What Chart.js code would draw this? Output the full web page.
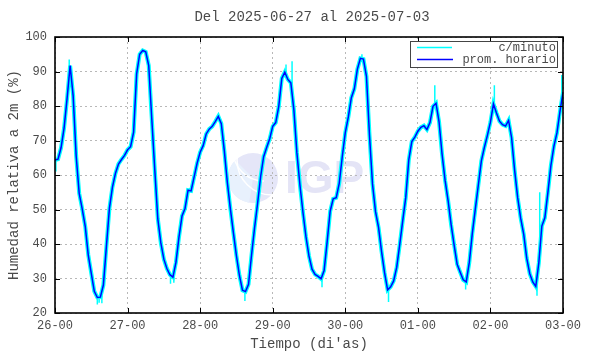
<!DOCTYPE html>
<html>
<head>
<meta charset="utf-8">
<script src="https://cdn.jsdelivr.net/npm/chart.js@4/dist/chart.umd.min.js"></script>
<style>
  html, body { margin: 0; padding: 0; background: #fff; }
  #wrap { width: 590px; height: 354px; }
</style>
</head>
<body>
<div id="wrap"><canvas id="chart" width="590" height="354"></canvas></div>
<script>
// valores horarios (prom. horario), una hora por punto desde 26-00
const hourlyValues = [
  64.3, 64.6, 67.9, 73.6, 82.2, 91.7, 83.0, 65.5, 54.7, 50.2,
  45.1, 36.8, 31.5, 26.3, 24.5, 24.6, 28.1, 39.3, 50.4, 56.5,
  60.5, 63.2, 64.5, 65.7, 67.3, 68.2, 72.4, 89.3, 95.0, 96.1,
  95.7, 91.7, 76.4, 61.5, 47.3, 40.3, 35.6, 32.9, 31.1, 30.4,
  34.7, 42.0, 48.1, 50.3, 55.6, 55.4, 59.4, 63.4, 66.6, 68.5,
  71.9, 73.3, 74.1, 75.5, 77.0, 74.9, 67.0, 57.8, 50.2, 43.2,
  36.6, 30.8, 26.6, 26.2, 28.3, 36.8, 44.7, 51.8, 59.5, 65.3,
  68.0, 70.5, 74.1, 75.2, 79.9, 88.0, 89.8, 87.7, 86.7, 78.9,
  66.4, 57.1, 49.2, 42.1, 36.5, 32.7, 31.2, 30.6, 29.9, 32.3,
  40.6, 49.5, 53.1, 53.4, 57.6, 65.3, 72.3, 76.8, 82.4, 85.0,
  90.7, 93.8, 93.6, 88.6, 71.6, 57.4, 49.4, 44.8, 37.8, 31.6,
  26.7, 27.6, 29.3, 33.2, 39.8, 46.8, 53.5, 64.4, 69.7, 71.0,
  72.7, 73.8, 74.3, 73.2, 75.2, 79.9, 80.8, 75.5, 66.1, 58.5,
  52.6, 45.6, 39.7, 34.1, 31.8, 29.6, 29.0, 34.6, 43.0, 50.1,
  57.1, 64.1, 68.0, 71.5, 75.3, 80.6, 78.0, 75.6, 74.6, 74.2,
  75.8, 70.8, 61.4, 53.5, 47.5, 42.9, 35.9, 31.4, 29.0, 27.7,
  34.5, 45.2, 47.6, 54.9, 62.8, 68.4, 72.2, 78.4, 84.0
];

// picos de los datos por minuto: [hora, desde %, hasta %]
const minuteSpikes = [
  [0.3, 64.0, 61.0], [4.7, 88.0, 93.5], [14.0, 25.0, 22.5], [14.6, 24.5, 23.0],
  [15.5, 25.0, 22.8], [38.2, 31.0, 28.5], [39.3, 30.5, 28.8], [62.8, 26.5, 23.5],
  [76.4, 89.0, 92.0], [78.4, 86.0, 93.0], [88.3, 30.0, 27.5], [101.5, 93.5, 95.0],
  [110.3, 26.5, 23.2], [125.6, 80.5, 86.0], [135.8, 29.0, 26.8], [145.3, 81.0, 86.0],
  [159.4, 28.0, 25.0], [160.3, 40.0, 55.0], [167.6, 80.0, 89.0]
];

const xTickLabels = ['26-00', '27-00', '28-00', '29-00', '30-00', '01-00', '02-00', '03-00'];
const yTicks = [20, 30, 40, 50, 60, 70, 80, 90, 100];

const FONT = "'Liberation Mono', 'DejaVu Sans Mono', monospace";
const TEXT = '#4a4a4a';

const hourlyPoints = hourlyValues.map((v, i) => ({ x: i, y: v }));
const spikePoints = [];
minuteSpikes.forEach(s => {
  spikePoints.push({ x: s[0], y: s[1] }, { x: s[0], y: s[2] }, { x: s[0], y: null });
});

// marco, marcas interiores, leyenda y titulo
const framePlugin = {
  id: 'frame',
  beforeDraw(chart) {
    const ctx = chart.ctx;
    // marca de agua IGP
    ctx.save();
    ctx.fillStyle = '#e5e6f8';
    ctx.beginPath();
    ctx.arc(253, 178, 25, 0, Math.PI * 2);
    ctx.fill();
    ctx.fillStyle = '#e8f1fd';
    ctx.beginPath();
    ctx.arc(253, 178, 25, Math.PI * 0.55, Math.PI * 1.25);
    ctx.lineTo(253, 178);
    ctx.fill();
    ctx.strokeStyle = '#ffffff';
    ctx.lineWidth = 1.5;
    [[264, 150, 31], [272, 160, 35], [246, 206, 31]].forEach(a => {
      ctx.beginPath();
      ctx.arc(a[0], a[1], a[2], Math.PI * 0.5, Math.PI * 1.1);
      ctx.stroke();
    });
    ctx.fillStyle = '#e4e4f6';
    ctx.font = "bold 46px 'Liberation Sans', Arial, sans-serif";
    ctx.textBaseline = 'middle';
    ctx.fillText('IGP', 285, 180);
    ctx.restore();
  },
  afterDraw(chart) {
    const ctx = chart.ctx;
    const a = chart.chartArea;
    const xs = chart.scales.x, ys = chart.scales.y;
    ctx.save();
    ctx.strokeStyle = '#000';
    ctx.lineWidth = 1;
    ctx.beginPath();
    for (let i = 0; i < xTickLabels.length; i++) {
      const px = Math.round(xs.getPixelForValue(i * 24)) + 0.5;
      ctx.moveTo(px, a.bottom); ctx.lineTo(px, a.bottom - 5);
      ctx.moveTo(px, a.top); ctx.lineTo(px, a.top + 5);
    }
    yTicks.forEach(t => {
      const py = Math.round(ys.getPixelForValue(t)) + 0.5;
      ctx.moveTo(a.left, py); ctx.lineTo(a.left + 5, py);
      ctx.moveTo(a.right, py); ctx.lineTo(a.right - 5, py);
    });
    ctx.stroke();
    ctx.lineWidth = 1.6;
    ctx.strokeRect(a.left, a.top, a.right - a.left, a.bottom - a.top);

    // leyenda
    ctx.fillStyle = '#fff';
    ctx.fillRect(410, 41, 147, 26);
    ctx.strokeStyle = '#444';
    ctx.lineWidth = 1;
    ctx.strokeRect(410.5, 41.5, 147, 26);
    ctx.strokeStyle = '#00ffff';
    ctx.lineWidth = 1.5;
    ctx.beginPath(); ctx.moveTo(417, 47.5); ctx.lineTo(452, 47.5); ctx.stroke();
    ctx.strokeStyle = '#0000ff';
    ctx.beginPath(); ctx.moveTo(417, 59.5); ctx.lineTo(453, 59.5); ctx.stroke();
    ctx.fillStyle = TEXT;
    ctx.font = '12px ' + FONT;
    ctx.textAlign = 'right';
    ctx.textBaseline = 'middle';
    ctx.fillText('c/minuto', 556, 48);
    ctx.fillText('prom. horario', 556, 60);

    // titulo
    ctx.textAlign = 'center';
    ctx.font = '14px ' + FONT;
    ctx.fillText('Del 2025-06-27 al 2025-07-03', 312, 17);
    ctx.restore();
  }
};

new Chart(document.getElementById('chart'), {
  type: 'line',
  data: {
    datasets: [
      {
        label: 'prom. horario',
        data: hourlyPoints,
        borderColor: '#0000ff',
        borderWidth: 1.5,
        pointRadius: 0,
        tension: 0,
        order: 1
      },
      {
        label: 'c/minuto',
        data: hourlyPoints,
        borderColor: '#00ffff',
        borderWidth: 4,
        pointRadius: 0,
        tension: 0,
        order: 2
      },
      {
        label: 'c/minuto picos',
        data: spikePoints,
        borderColor: '#00ffff',
        borderWidth: 1.5,
        pointRadius: 0,
        spanGaps: false,
        order: 3
      }
    ]
  },
  options: {
    responsive: false,
    animation: false,
    layout: { padding: { top: 37, right: 27, left: 0, bottom: 0 } },
    plugins: { legend: { display: false }, tooltip: { enabled: false } },
    scales: {
      x: {
        type: 'linear',
        min: 0,
        max: 168,
        afterFit: s => { s.height = 41; },
        ticks: {
          stepSize: 24,
          padding: 6,
          maxRotation: 0,
          color: TEXT,
          font: { family: FONT, size: 12 },
          callback: v => xTickLabels[v / 24]
        },
        grid: { color: '#b8b8b8', lineWidth: 1, drawTicks: false },
        border: { display: false, dash: [2, 3] },
        title: {
          display: true,
          text: "Tiempo (di'as)",
          color: TEXT,
          font: { family: FONT, size: 14 },
          padding: { top: 0, bottom: 1 }
        }
      },
      y: {
        min: 20,
        max: 100,
        afterFit: s => { s.width = 55; },
        ticks: {
          stepSize: 10,
          padding: 8,
          color: TEXT,
          font: { family: FONT, size: 12 }
        },
        grid: { color: '#b8b8b8', lineWidth: 1, drawTicks: false },
        border: { display: false, dash: [2, 3] },
        title: {
          display: true,
          text: 'Humedad relativa a 2m (%)',
          color: TEXT,
          font: { family: FONT, size: 14 },
          padding: { top: 6, bottom: 0 }
        }
      }
    }
  },
  plugins: [framePlugin]
});
</script>
</body>
</html>
